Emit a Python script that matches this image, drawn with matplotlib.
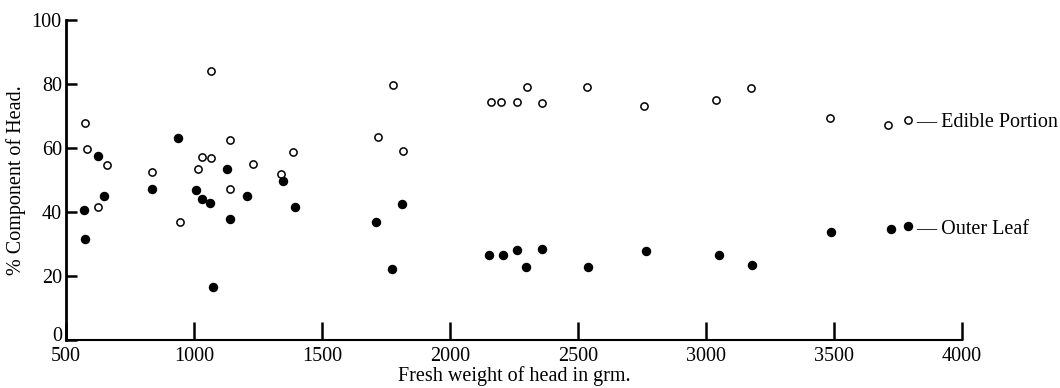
import matplotlib
matplotlib.use("Agg")
import matplotlib.pyplot as plt
import matplotlib.transforms as mtransforms
from matplotlib.lines import Line2D

plt.rcParams['font.family'] = ['Liberation Serif', 'DejaVu Serif']

# Edible portion (open circles): fresh weight of head (g), % of head
edible_weight = [574, 583, 659, 624, 835, 947, 1067, 1015, 1031, 1067, 1140, 1141,
                 1231, 1339, 1388, 1777, 1719, 1816, 2161, 2199, 2262, 2300, 2360,
                 2535, 2759, 3040, 3177, 3486, 3711]
edible_pct = [67.7, 59.7, 54.7, 41.7, 52.4, 37.0, 84.2, 53.4, 57.2, 56.8, 62.4, 47.1,
              55.1, 51.9, 58.8, 79.8, 63.4, 59.1, 74.4, 74.4, 74.4, 79.0, 74.1,
              79.0, 73.2, 75.0, 78.6, 69.3, 67.2]

# Outer leaf (filled circles)
outer_weight = [570, 575, 624, 650, 836, 936, 1009, 1031, 1063, 1076, 1129, 1140,
                1207, 1347, 1396, 1813, 1711, 1775, 2153, 2206, 2262, 2298, 2359,
                2540, 2764, 3052, 3179, 3488, 3724]
outer_pct = [40.5, 31.6, 57.6, 44.9, 47.1, 63.1, 46.9, 44.1, 42.7, 16.5, 53.4, 37.9,
             45.1, 49.6, 41.5, 42.5, 36.9, 22.1, 26.5, 26.7, 28.1, 22.7, 28.4,
             22.7, 27.8, 26.5, 23.3, 33.8, 34.7]

x_ticks = [500, 1000, 1500, 2000, 2500, 3000, 3500, 4000]
y_ticks = [0, 20, 40, 60, 80, 100]

fig = plt.figure(figsize=(10.6, 3.88), dpi=100)
ax = fig.add_axes([66 / 1060, 1 - 340 / 388, 896 / 1060, 320 / 388])

ax.plot(edible_weight, edible_pct, 'o', ls='none', ms=5.2, mfc='white', mec='black', mew=1.1)
ax.plot(outer_weight, outer_pct, 'o', ls='none', ms=5.8, mfc='black', mec='black')

ax.set_xlim(500, 4000)
ax.set_ylim(0, 100)
ax.set_xticks(x_ticks)
ax.set_yticks(y_ticks)

for side in ['top', 'right']:
    ax.spines[side].set_visible(False)
ax.spines['left'].set_linewidth(2.0)
ax.spines['bottom'].set_linewidth(1.5)

ax.tick_params(axis='y', direction='in', length=8, width=1.8, labelsize=14.5, pad=3)
ax.tick_params(axis='x', direction='in', length=13, width=1.8, labelsize=14.5, pad=5)

# lift the "0" a little so it sits above the "500" like in the original
zero_label = ax.get_yticklabels()[0]
zero_label.set_transform(zero_label.get_transform() +
                         mtransforms.ScaledTranslation(0, 4 / 72, fig.dpi_scale_trans))

ax.set_xlabel("Fresh weight of head in grm.", fontsize=14.5, labelpad=0)
ax.set_ylabel("% Component of Head.", fontsize=14.5, labelpad=4)

# two separate key entries next to the right-hand points
h_edible = Line2D([], [], marker='o', ls='none', ms=5.2, mfc='white', mec='black', mew=1.1)
h_outer = Line2D([], [], marker='o', ls='none', ms=5.8, mfc='black', mec='black')
leg1 = ax.legend([h_edible], ["\u2014 Edible Portion"], loc='center left',
                 bbox_to_anchor=(0.933, 0.681), frameon=False, fontsize=14.5,
                 handlelength=0.6, handletextpad=0.1, borderpad=0, borderaxespad=0)
ax.add_artist(leg1)
ax.legend([h_outer], ["\u2014 Outer Leaf"], loc='center left',
          bbox_to_anchor=(0.933, 0.347), frameon=False, fontsize=14.5,
          handlelength=0.6, handletextpad=0.1, borderpad=0, borderaxespad=0)

fig.savefig("out.png", dpi=100)
